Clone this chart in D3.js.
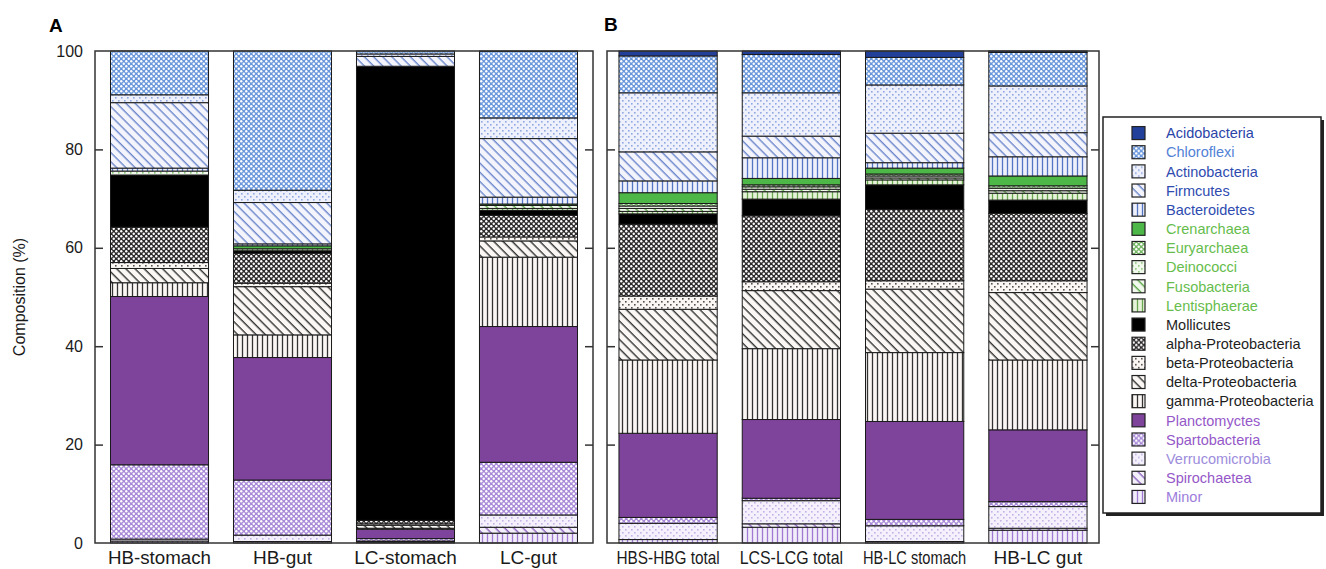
<!DOCTYPE html>
<html>
<head>
<meta charset="utf-8">
<script src="https://cdn.jsdelivr.net/npm/d3@7"></script>
<style>
  body { margin: 0; background: #fff; }
  svg { display: block; font-family: Arial, "Liberation Sans", sans-serif; }
</style>
</head>
<body>
<svg id="chart" width="1326" height="569"></svg>
<script>
// taxa in legend order (top of the stack first)
const taxa = [
  'Acidobacteria', 'Chloroflexi', 'Actinobacteria', 'Firmcutes', 'Bacteroidetes',
  'Crenarchaea', 'Euryarchaea', 'Deinococci', 'Fusobacteria', 'Lentisphaerae',
  'Mollicutes', 'alpha-Proteobacteria', 'beta-Proteobacteria', 'delta-Proteobacteria',
  'gamma-Proteobacteria', 'Planctomyctes', 'Spartobacteria', 'Verrucomicrobia',
  'Spirochaetea', 'Minor'
];

const categoriesA = ['HB-stomach', 'HB-gut', 'LC-stomach', 'LC-gut'];
const categoriesB = ['HBS-HBG total', 'LCS-LCG total', 'HB-LC stomach', 'HB-LC gut'];
const yTicks = [0, 20, 40, 60, 80, 100];

// composition (%) per sample, same order as taxa
const hbStomach = [0, 8.9, 1.6, 13.3, 0.6, 0, 0, 0.8, 0, 0, 10.6, 7.2, 1.2, 2.9, 2.8, 34.2, 15.1, 0.4, 0, 0.4];
const hbGut = [0, 28.3, 2.5, 8.4, 0.4, 0.6, 0, 0, 0, 0.4, 0.5, 6.1, 0.7, 9.8, 4.6, 24.9, 11.2, 1.3, 0, 0.3];
const lcStomach = [0, 0.6, 0.5, 2.0, 0, 0, 0, 0, 0, 0, 92.3, 0.7, 0.3, 0.6, 0.2, 1.9, 0.5, 0.2, 0, 0.2];
const lcGut = [0.1, 13.5, 4.2, 11.9, 1.4, 0.3, 0, 0, 0.6, 0.4, 1.0, 4.4, 0.8, 3.3, 14.1, 27.6, 10.7, 2.5, 1.2, 2.0];
const hbsHbgTotal = [1.0, 7.5, 12.0, 5.9, 2.4, 2.2, 0.5, 0.5, 0.6, 0.5, 2.1, 14.6, 2.7, 10.3, 14.9, 17.1, 1.2, 3.3, 0, 0.7];
const lcsLcgTotal = [0.7, 7.8, 8.8, 4.4, 4.2, 1.3, 0.4, 0.5, 0.5, 1.5, 3.4, 13.4, 1.8, 11.8, 14.4, 16.0, 0.5, 4.7, 0.7, 3.2];
const hbLcStomach = [1.3, 5.6, 9.8, 6.0, 1.1, 1.2, 0.4, 0.4, 0.4, 1.0, 5.0, 14.5, 1.7, 12.9, 14.0, 19.9, 1.3, 3.2, 0, 0.3];
const hbLcGut = [0.3, 6.8, 9.5, 4.9, 3.9, 2.0, 0.5, 0.5, 0.5, 1.4, 2.7, 13.7, 2.4, 13.7, 14.2, 14.6, 1.0, 4.4, 0.4, 2.6];

const valuesA = [hbStomach, hbGut, lcStomach, lcGut];
const valuesB = [hbsHbgTotal, lcsLcgTotal, hbLcStomach, hbLcGut];

// fill style per taxon: [kind, foreground, background]
const styles = {
  'Acidobacteria': ['solid', '#22409a'],
  'Chloroflexi': ['dense', '#6a97dc'],
  'Actinobacteria': ['sparse', '#90a8e2', '#eef1fb'],
  'Firmcutes': ['diag', '#6c86cc', '#f4f5fc'],
  'Bacteroidetes': ['vert', '#5474c4', '#eef0fa'],
  'Crenarchaea': ['solid', '#4db848'],
  'Euryarchaea': ['dense', '#74b864'],
  'Deinococci': ['sparse', '#8cc47a', '#f1f8ec'],
  'Fusobacteria': ['diag', '#5ea84a', '#f1f8ec'],
  'Lentisphaerae': ['vert', '#6aa852', '#e6f3da'],
  'Mollicutes': ['solid', '#000000'],
  'alpha-Proteobacteria': ['dense', '#2e2a2a'],
  'beta-Proteobacteria': ['sparse', '#555050', '#faf6f4'],
  'delta-Proteobacteria': ['diag', '#333333', '#faf7f5'],
  'gamma-Proteobacteria': ['vert', '#333333', '#faf7f5'],
  'Planctomyctes': ['solid', '#7e439b'],
  'Spartobacteria': ['dense', '#a88ad8'],
  'Verrucomicrobia': ['sparse', '#c2b2e6', '#f5f1fc'],
  'Spirochaetea': ['diag', '#8a62bc', '#f4f0fb'],
  'Minor': ['vert', '#a07ad2', '#f2edfa']
};

const labelColors = {
  'Acidobacteria': '#2a45a8', 'Chloroflexi': '#5282d6', 'Actinobacteria': '#2e4cb0',
  'Firmcutes': '#2e4cb0', 'Bacteroidetes': '#2e4cb0',
  'Crenarchaea': '#66bd4c', 'Euryarchaea': '#66bd4c', 'Deinococci': '#66bd4c',
  'Fusobacteria': '#66bd4c', 'Lentisphaerae': '#66bd4c',
  'Mollicutes': '#1e1e1e', 'alpha-Proteobacteria': '#1e1e1e', 'beta-Proteobacteria': '#1e1e1e',
  'delta-Proteobacteria': '#1e1e1e', 'gamma-Proteobacteria': '#1e1e1e',
  'Planctomyctes': '#9558c8', 'Spartobacteria': '#9558c8', 'Verrucomicrobia': '#9d8ddc',
  'Spirochaetea': '#9558c8', 'Minor': '#9d7ddc'
};

const svg = d3.select('#chart');
const defs = svg.append('defs');

const patternId = t => 'pat-' + taxa.indexOf(t);

function makePattern(t) {
  const [kind, fg, bg] = styles[t];
  if (kind === 'solid') return fg;
  const p = defs.append('pattern')
    .attr('id', patternId(t))
    .attr('patternUnits', 'userSpaceOnUse');
  if (kind === 'dense') {
    p.attr('width', 5).attr('height', 5);
    p.append('rect').attr('width', 5).attr('height', 5).attr('fill', fg);
    p.append('circle').attr('cx', 1.25).attr('cy', 1.25).attr('r', 1.2).attr('fill', '#fff');
    p.append('circle').attr('cx', 3.75).attr('cy', 3.75).attr('r', 1.2).attr('fill', '#fff');
  } else if (kind === 'sparse') {
    p.attr('width', 6).attr('height', 6);
    p.append('rect').attr('width', 6).attr('height', 6).attr('fill', bg);
    p.append('rect').attr('x', 1).attr('y', 1).attr('width', 1.6).attr('height', 1.6).attr('fill', fg);
    p.append('rect').attr('x', 4).attr('y', 4).attr('width', 1.6).attr('height', 1.6).attr('fill', fg);
  } else if (kind === 'diag') {
    p.attr('width', 6.5).attr('height', 6.5).attr('patternTransform', 'rotate(-45)');
    p.append('rect').attr('width', 6.5).attr('height', 6.5).attr('fill', bg);
    p.append('line').attr('x1', 3).attr('x2', 3).attr('y1', 0).attr('y2', 6.5)
      .attr('stroke', fg).attr('stroke-width', 1.4);
  } else {
    p.attr('width', 5).attr('height', 5);
    p.append('rect').attr('width', 5).attr('height', 5).attr('fill', bg);
    p.append('line').attr('x1', 2.5).attr('x2', 2.5).attr('y1', 0).attr('y2', 5)
      .attr('stroke', fg).attr('stroke-width', 1.3);
  }
  return `url(#${patternId(t)})`;
}

const fills = {};
taxa.forEach(t => { fills[t] = makePattern(t); });

const y = d3.scaleLinear().domain([0, 100]).range([543, 51]);

// stacking from the bottom: Minor first, Acidobacteria last
const stackKeys = taxa.slice().reverse();
const stack = d3.stack().keys(stackKeys);

function toRows(categories, values) {
  return categories.map((c, i) => {
    const row = { name: c };
    taxa.forEach((t, j) => { row[t] = values[i][j]; });
    return row;
  });
}

function panel(categories, values, x0, x1, opts) {
  const x = d3.scaleBand()
    .domain(categories)
    .range([x0, x1])
    .paddingInner(0.203)
    .paddingOuter(opts.paddingOuter);

  const series = stack(toRows(categories, values));

  const g = svg.append('g');

  g.selectAll('g.layer')
    .data(series)
    .join('g')
    .attr('class', 'layer')
    .attr('fill', d => fills[d.key])
    .selectAll('rect')
    .data(d => d.filter(s => s[1] - s[0] > 0))
    .join('rect')
    .attr('x', d => x(d.data.name))
    .attr('width', x.bandwidth())
    .attr('y', d => y(d[1]))
    .attr('height', d => y(d[0]) - y(d[1]))
    .attr('stroke', '#1a1a1a')
    .attr('stroke-width', 1);

  // frame
  g.append('rect')
    .attr('x', x0).attr('y', y(100))
    .attr('width', x1 - x0).attr('height', y(0) - y(100))
    .attr('fill', 'none')
    .attr('stroke', '#333')
    .attr('stroke-width', 1.5);

  const inner = yTicks.filter(v => v > 0 && v < 100);
  const left = g.append('g')
    .attr('transform', `translate(${x0},0)`)
    .call(d3.axisRight(y).tickValues(inner).tickSize(8).tickFormat(''));
  left.select('.domain').remove();
  left.selectAll('line').attr('stroke', '#333').attr('stroke-width', 1.5);

  const right = g.append('g')
    .attr('transform', `translate(${x1},0)`)
    .call(d3.axisLeft(y).tickValues(inner).tickSize(8).tickFormat(''));
  right.select('.domain').remove();
  right.selectAll('line').attr('stroke', '#333').attr('stroke-width', 1.5);

  // category labels
  const labels = g.selectAll('text.cat')
    .data(categories)
    .join('text')
    .attr('class', 'cat')
    .attr('x', d => x(d) + x.bandwidth() / 2)
    .attr('y', 564)
    .attr('text-anchor', 'middle')
    .attr('font-size', 19)
    .attr('fill', '#1a1a1a')
    .text(d => d);

  labels.each(function () {
    const len = this.getComputedTextLength();
    if (len > x.bandwidth() + 6) {
      d3.select(this)
        .attr('textLength', x.bandwidth() + 5)
        .attr('lengthAdjust', 'spacingAndGlyphs');
    }
  });

  return x;
}

panel(categoriesA, valuesA, 95, 593, { paddingOuter: 0.126 });
panel(categoriesB, valuesB, 607, 1099, { paddingOuter: 0.097 });

// y axis labels (panel A only)
svg.append('g')
  .selectAll('text')
  .data(yTicks)
  .join('text')
  .attr('x', 83)
  .attr('y', d => y(d))
  .attr('dy', '0.35em')
  .attr('text-anchor', 'end')
  .attr('font-size', 16)
  .attr('fill', '#1a1a1a')
  .text(d => d);

svg.append('text')
  .attr('transform', `translate(25,${(y(0) + y(100)) / 2}) rotate(-90)`)
  .attr('text-anchor', 'middle')
  .attr('font-size', 16)
  .attr('fill', '#1a1a1a')
  .text('Composition (%)');

svg.append('text')
  .attr('x', 49).attr('y', 32)
  .attr('font-size', 19).attr('font-weight', 'bold')
  .text('A');

svg.append('text')
  .attr('x', 604).attr('y', 31)
  .attr('font-size', 19).attr('font-weight', 'bold')
  .text('B');

// legend
const legend = svg.append('g');
legend.append('rect')
  .attr('x', 1106).attr('y', 120)
  .attr('width', 218).attr('height', 396)
  .attr('fill', '#222');
legend.append('rect')
  .attr('x', 1103).attr('y', 117)
  .attr('width', 218).attr('height', 396)
  .attr('fill', '#fff')
  .attr('stroke', '#222')
  .attr('stroke-width', 1.5);

const ly = d3.scaleBand().domain(taxa).range([123.5, 506.5]);

const rows = legend.selectAll('g.row')
  .data(taxa)
  .join('g')
  .attr('class', 'row')
  .attr('transform', d => `translate(0,${ly(d) + ly.bandwidth() / 2})`);

rows.append('rect')
  .attr('x', 1132).attr('y', -6.5)
  .attr('width', 13).attr('height', 13)
  .attr('fill', d => fills[d])
  .attr('stroke', '#222')
  .attr('stroke-width', 1.2);

rows.append('text')
  .attr('x', 1166)
  .attr('dy', '0.36em')
  .attr('font-size', 14.5)
  .attr('fill', d => labelColors[d])
  .text(d => d);
</script>
</body>
</html>
